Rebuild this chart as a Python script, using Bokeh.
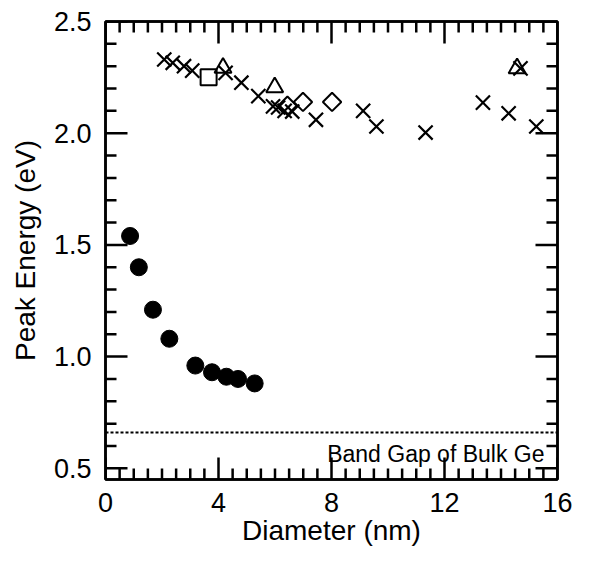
import math
from bokeh.plotting import figure
from bokeh.models import LinearAxis, FixedTicker, Span, Range1d, Label
from bokeh.embed import file_html
from bokeh.resources import INLINE

# --- data ---
circle_d = [0.87, 1.18, 1.68, 2.26, 3.18, 3.77, 4.28, 4.69, 5.28]
circle_e = [1.54, 1.40, 1.21, 1.08, 0.96, 0.93, 0.91, 0.90, 0.88]

cross_d = [2.08, 2.38, 2.78, 3.07, 4.25, 4.81, 5.41, 5.93, 6.11, 6.34, 6.61,
           7.45, 9.12, 9.59, 11.33, 13.36, 14.27, 15.25, 14.69]
cross_e = [2.33, 2.315, 2.30, 2.28, 2.27, 2.226, 2.166, 2.12, 2.115, 2.10, 2.097,
           2.06, 2.10, 2.03, 2.003, 2.137, 2.089, 2.03, 2.29]

tri_d = [4.16, 5.99, 14.57]
tri_e = [2.293, 2.205, 2.29]

square_d = [3.65]
square_e = [2.25]

diamond_d = [6.44, 6.99, 8.02]
diamond_e = [2.123, 2.14, 2.14]

bulk_gap = 0.66
gap_label = "Band Gap of Bulk Ge"

x_lo, x_hi = 0, 16
y_lo, y_hi = 0.45, 2.5
x_major = [0, 4, 8, 12, 16]
x_minor = [0.5, 1, 1.5, 2, 2.5, 3, 3.5, 4.5, 5, 5.5, 6, 6.5, 7, 7.5,
           8.5, 9, 9.5, 10, 10.5, 11, 11.5, 12.5, 13, 13.5, 14, 14.5, 15, 15.5]
y_major = [0.5, 1.0, 1.5, 2.0, 2.5]
y_minor = [0.6, 0.7, 0.8, 0.9, 1.1, 1.2, 1.3, 1.4, 1.6, 1.7, 1.8, 1.9,
           2.1, 2.2, 2.3, 2.4]
y_labels = {0.5: "0.5", 1.0: "1.0", 1.5: "1.5", 2.0: "2.0", 2.5: "2.5"}

FONT = "Liberation Sans"

p = figure(width=573, height=549, x_range=Range1d(x_lo, x_hi), y_range=Range1d(y_lo, y_hi),
           output_backend="svg", toolbar_location=None,
           x_axis_location=None, y_axis_location=None,
           min_border_left=105, min_border_right=16, min_border_top=21, min_border_bottom=70)
p.grid.grid_line_color = None
p.outline_line_color = "black"
p.outline_line_width = 2.5
p.background_fill_color = "white"
p.border_fill_color = "white"


def style_axis(ax, show_labels):
    ax.axis_line_width = 2.5
    ax.axis_line_color = "black"
    ax.major_tick_in = 0
    ax.major_tick_out = 0
    ax.minor_tick_in = 0
    ax.minor_tick_out = 0
    ax.minor_tick_line_color = None
    ax.major_tick_line_color = None
    if show_labels:
        ax.major_label_text_font = FONT
        ax.major_label_text_font_size = "27px"
        ax.major_label_text_color = "black"
        ax.axis_label_text_font = FONT
        ax.axis_label_text_font_size = "28px"
        ax.axis_label_text_font_style = "normal"
        ax.axis_label_text_color = "black"
    else:
        ax.major_label_text_color = None
        ax.major_label_text_font_size = "1px"
        ax.major_label_standoff = 0


xb = LinearAxis(ticker=FixedTicker(ticks=x_major), axis_label="Diameter (nm)")
style_axis(xb, True)
xb.major_label_standoff = 13
xb.axis_label_standoff = 0
p.add_layout(xb, "below")

xt = LinearAxis(ticker=FixedTicker(ticks=x_major))
style_axis(xt, False)
p.add_layout(xt, "above")

yl = LinearAxis(ticker=FixedTicker(ticks=y_major), axis_label="Peak Energy (eV)")
style_axis(yl, True)
yl.major_label_overrides = y_labels
yl.major_label_standoff = 14
yl.axis_label_standoff = 10
p.add_layout(yl, "left")

yr = LinearAxis(ticker=FixedTicker(ticks=y_major))
style_axis(yr, False)
p.add_layout(yr, "right")

# inward tick marks: dash markers centred on the frame edges (half clipped by the frame)
MAJ, MIN = 44, 22
TICK_COLOR = "black"
for xs_edge in (x_lo, x_hi):
    p.scatter([xs_edge] * len(y_major), y_major, marker="dash", size=MAJ,
              line_color=TICK_COLOR, line_width=2.5)
    p.scatter([xs_edge] * len(y_minor), y_minor, marker="dash", size=MIN,
              line_color=TICK_COLOR, line_width=2.5)
for ys_edge in (y_lo, y_hi):
    p.scatter(x_major, [ys_edge] * len(x_major), marker="dash", size=MAJ,
              angle=math.pi / 2, line_color=TICK_COLOR, line_width=2.5)
    p.scatter(x_minor, [ys_edge] * len(x_minor), marker="dash", size=MIN,
              angle=math.pi / 2, line_color=TICK_COLOR, line_width=2.5)

# band gap line and label
p.add_layout(Span(location=bulk_gap, dimension="width", line_color="black",
                  line_width=2, line_dash="3 2"))
p.add_layout(Label(x=15.54, y=0.562, text=gap_label, text_align="right",
                   text_baseline="alphabetic", text_font=FONT,
                   text_font_size="23px", text_color="black"))

# markers
p.scatter(cross_d, cross_e, marker="x", size=20, line_color="black", line_width=2.2)
p.scatter(tri_d, tri_e, marker="triangle", size=17, line_color="black", line_width=2,
          fill_color=None)
p.scatter(square_d, square_e, marker="square", size=16, line_color="black", line_width=2,
          fill_color=None)
p.scatter(diamond_d, diamond_e, marker="square", angle=0.785398, size=13,
          line_color="black", line_width=2, fill_color=None)
p.scatter(circle_d, circle_e, marker="circle", size=17, line_color="black",
          fill_color="black")

open("out.html", "w").write(file_html(p, INLINE))
